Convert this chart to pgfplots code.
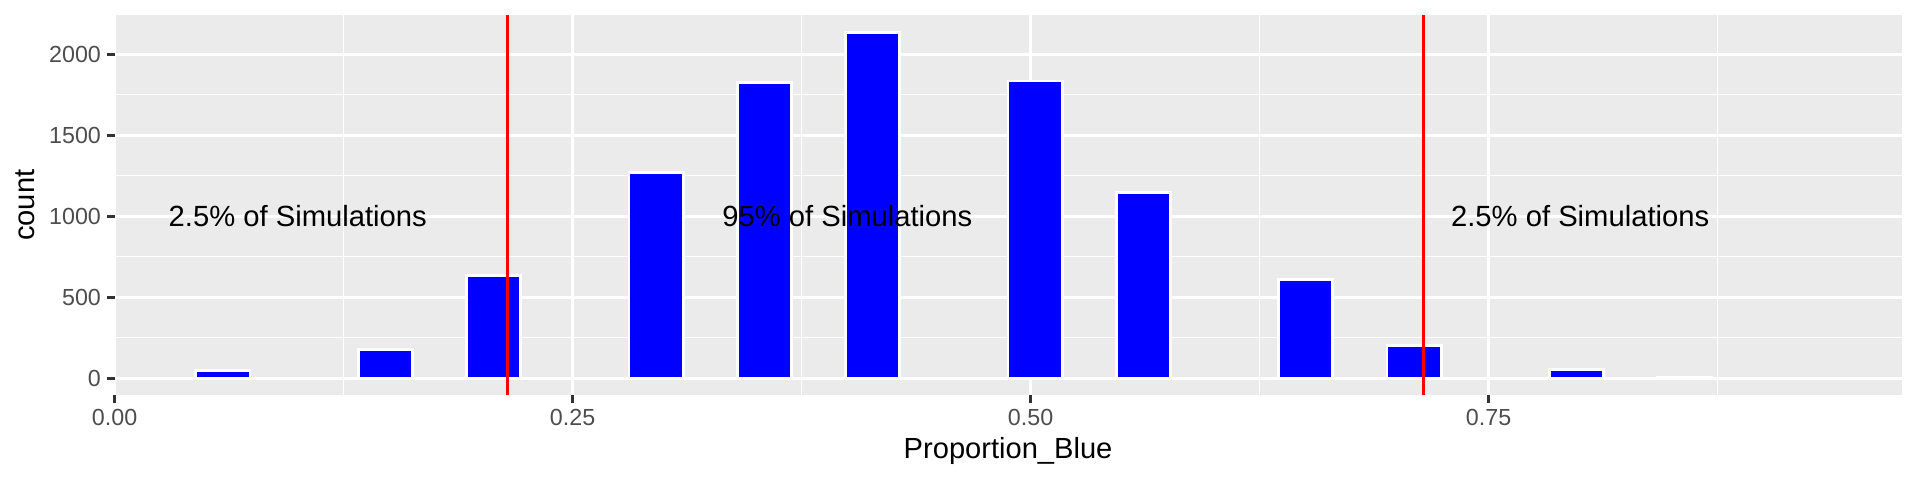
\documentclass[border=0pt]{standalone}
\usepackage{fontspec}
\setmainfont{Liberation Sans}
\usepackage{pgfplots}
\pgfplotsset{compat=1.18}
\definecolor{panelbg}{RGB}{235,235,235}
\definecolor{grey30}{RGB}{77,77,77}
\definecolor{grey20}{RGB}{51,51,51}
\definecolor{ggred}{RGB}{255,0,0}
\definecolor{ggblue}{RGB}{0,0,255}
\begin{document}
\begin{tikzpicture}
\begin{axis}[
  scale only axis, width=675.5pt, height=143.8pt,
  xmin=0, xmax=0.97545, ymin=-106.8, ymax=2242.8,
  axis background/.style={fill=panelbg},
  axis line style={draw=none},
  xtick={0,0.25,0.5,0.75}, xticklabels={0.00,0.25,0.50,0.75},
  ytick={0,500,1000,1500,2000}, yticklabels={0,500,1000,1500,2000},
  minor xtick={0.125,0.375,0.625,0.875},
  minor ytick={250,750,1250,1750},
  grid=both,
  major grid style={white, line width=1.067pt},
  minor grid style={white, line width=0.533pt},
  tick align=outside, major tick length=2.75pt, minor tick length=0pt,
  tick style={grey20, line width=1.067pt},
  xtick pos=lower, ytick pos=lower,
  /pgf/number format/assume math mode=true,
  ticklabel style={font=\fontsize{8.8}{10}\selectfont, text=grey30, inner sep=0pt},
  xticklabel style={anchor=north, yshift=-2.2pt},
  yticklabel style={anchor=east, xshift=-2.2pt},
  xlabel={Proportion\_Blue}, ylabel={count},
  label style={font=\fontsize{11}{13}\selectfont},
  xlabel style={at={(axis description cs:0.5,-0.1662)}, anchor=base},
  ylabel style={at={(axis description cs:-0.0449,0.5)}, anchor=base},
  clip=true,
]
\addplot[ybar, bar width=0.0295567, bar shift=0pt, fill=ggblue, draw=white, line width=1.067pt]
  coordinates {
  (0.059113,48) (0.147783,179) (0.206897,636) (0.295567,1272)
  (0.354680,1827) (0.413793,2136) (0.502463,1835) (0.561576,1146)
  (0.650246,607) (0.709360,202) (0.798030,51) (0.857143,6)
  };
\addplot[ggred, line width=1.067pt] coordinates {(0.214286,-106.8) (0.214286,2242.8)};
\addplot[ggred, line width=1.067pt] coordinates {(0.714286,-106.8) (0.714286,2242.8)};
\node[font=\fontsize{11.04}{13}\selectfont, inner sep=0pt] at (axis cs:0.1,1000) {2.5\% of Simulations};
\node[font=\fontsize{11.04}{13}\selectfont, inner sep=0pt] at (axis cs:0.4,1000) {95\% of Simulations};
\node[font=\fontsize{11.04}{13}\selectfont, inner sep=0pt] at (axis cs:0.8,1000) {2.5\% of Simulations};
\end{axis}
\pgfresetboundingbox
\path (current axis.south west) ++(-43.3pt,-31.94pt) coordinate (bbA);
\path (current axis.north east) ++(6.96pt,5.67pt) coordinate (bbB);
\useasboundingbox (bbA) rectangle (bbB);
\end{tikzpicture}
\end{document}
